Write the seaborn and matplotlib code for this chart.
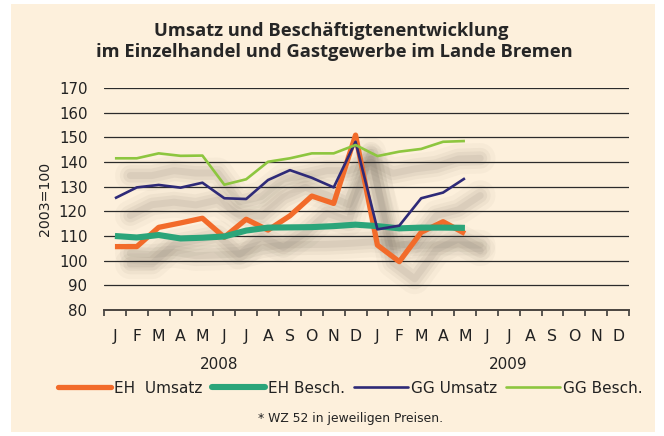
import numpy as np
import pandas as pd
import matplotlib
matplotlib.use("Agg")
import matplotlib.pyplot as plt
import seaborn as sns
from matplotlib.lines import Line2D
from matplotlib.patches import Rectangle

months = ["J", "F", "M", "A", "M", "J", "J", "A", "S", "O", "N", "D"] * 2
eh_umsatz = [105.7, 105.7, 113.5, 115.3, 117.2, 109.5, 116.8, 112.4, 118.2, 126.2, 123.2, 150.9,
             106.3, 99.6, 111.5, 115.8, 111.0]
eh_besch = [110.0, 109.4, 110.4, 109.0, 109.3, 109.8, 112.2, 113.4, 113.5, 113.6, 114.0, 114.6,
            114.0, 113.1, 113.4, 113.4, 113.3]
gg_umsatz = [125.3, 129.7, 130.7, 129.6, 131.6, 125.3, 125.0, 132.7, 136.7, 133.6, 129.7, 148.2,
             112.7, 114.2, 125.3, 127.6, 133.4]
gg_besch = [141.5, 141.5, 143.5, 142.5, 142.6, 130.8, 133.0, 140.1, 141.5, 143.5, 143.5, 146.9,
            142.4, 144.2, 145.3, 148.2, 148.5]
series_names = ["EH  Umsatz", "EH Besch.", "GG Umsatz", "GG Besch."]
years = ["2008", "2009"]

colors = ["#F26B2A", "#2BA57A", "#2E2A78", "#8DC63F"]
widths = [3.8, 4.4, 1.9, 1.9]

sns.set_style("white")
plt.rcParams["font.family"] = ["DejaVu Sans"]
txt = "#222222"

fig = plt.figure(figsize=(6.64, 4.36), dpi=100)
fig.patch.set_facecolor("white")
bg = "#FDF0DC"
fig.patches.append(Rectangle((11 / 664, 4 / 436), 644 / 664, 428 / 436,
                             transform=fig.transFigure, facecolor=bg, edgecolor="none", zorder=-10))

ax = fig.add_axes([104 / 664, 1 - 310 / 436, 525 / 664, 222 / 436])
ax.set_facecolor("none")
ax.set_zorder(1)

all_series = [eh_umsatz, eh_besch, gg_umsatz, gg_besch]
frames = []
for name, vals in zip(series_names, all_series):
    frames.append(pd.DataFrame({"x": np.arange(len(vals)), "v": vals, "s": name}))
df = pd.concat(frames, ignore_index=True)

# soft blurred drop shadows
for k, name in enumerate(series_names):
    sub = df[df.s == name]
    for lw, a in [(22, 0.035), (15, 0.05), (10, 0.065), (5, 0.08)]:
        ax.plot(sub.x + 0.7, sub.v - 7, color="#5e5548", lw=lw, alpha=a,
                solid_capstyle="round", solid_joinstyle="round", zorder=1)

for name, c, w in zip(series_names, colors, widths):
    sub = df[df.s == name]
    sns.lineplot(data=sub, x="x", y="v", ax=ax, color=c, linewidth=w, legend=False,
                 zorder=3, solid_joinstyle="round", solid_capstyle="butt")

ax.set_xlim(-0.5, 23.5)
ax.set_ylim(80, 170)
ax.set_yticks(np.arange(80, 171, 10))
for yv in np.arange(90, 171, 10):
    ax.axhline(yv, color="#2b2b2b", lw=0.9, zorder=2)
for sp in ["top", "right", "left"]:
    ax.spines[sp].set_visible(False)
ax.spines["bottom"].set_color("#4a4540")
ax.spines["bottom"].set_linewidth(1.4)

ax.set_xticks(np.arange(24))
ax.set_xticklabels(months)
ax.set_xticks(np.arange(-0.5, 24, 1), minor=True)
ax.tick_params(axis="x", which="major", bottom=False, length=0, pad=14, labelsize=11.3,
               labelcolor=txt)
ax.tick_params(axis="x", which="minor", bottom=True, length=4.5, width=1.1, color="#2b2b2b",
               direction="out")
ax.tick_params(axis="y", left=False, length=0, pad=12, labelsize=10.8, labelcolor=txt)
ax.set_xlabel("")
ax.set_ylabel("2003=100", fontsize=10.2, color=txt, labelpad=5)

ax.text(4.76, -0.245, years[0], transform=ax.get_xaxis_transform(), ha="center", va="center",
        fontsize=11, color=txt)
ax.text(18.0, -0.245, years[1], transform=ax.get_xaxis_transform(), ha="center", va="center",
        fontsize=11, color=txt)

fig.text(0.499, 1 - 31 / 436, "Umsatz und Beschäftigtenentwicklung", ha="center", va="center",
         fontsize=13.2, fontweight="bold", color="#262626", family=["Open Sans", "DejaVu Sans"])
fig.text(0.503, 1 - 52 / 436, "im Einzelhandel und Gastgewerbe im Lande Bremen", ha="center",
         va="center", fontsize=13.2, fontweight="bold", color="#262626",
         family=["Open Sans", "DejaVu Sans"])

handles = [Line2D([0], [0], color=c, lw=w) for c, w in zip(colors, widths)]
leg = fig.legend(handles, series_names, loc="center", bbox_to_anchor=(350 / 664, 1 - 388 / 436),
                 ncol=4, frameon=False, fontsize=11, handlelength=3.5, handletextpad=0.2,
                 columnspacing=0.6)
for t in leg.get_texts():
    t.set_color(txt)

fig.text(351 / 664, 1 - 418 / 436, "* WZ 52 in jeweiligen Preisen.", ha="center", va="center",
         fontsize=8.9, color=txt)

fig.savefig("out.png", dpi=100, facecolor=fig.get_facecolor())
